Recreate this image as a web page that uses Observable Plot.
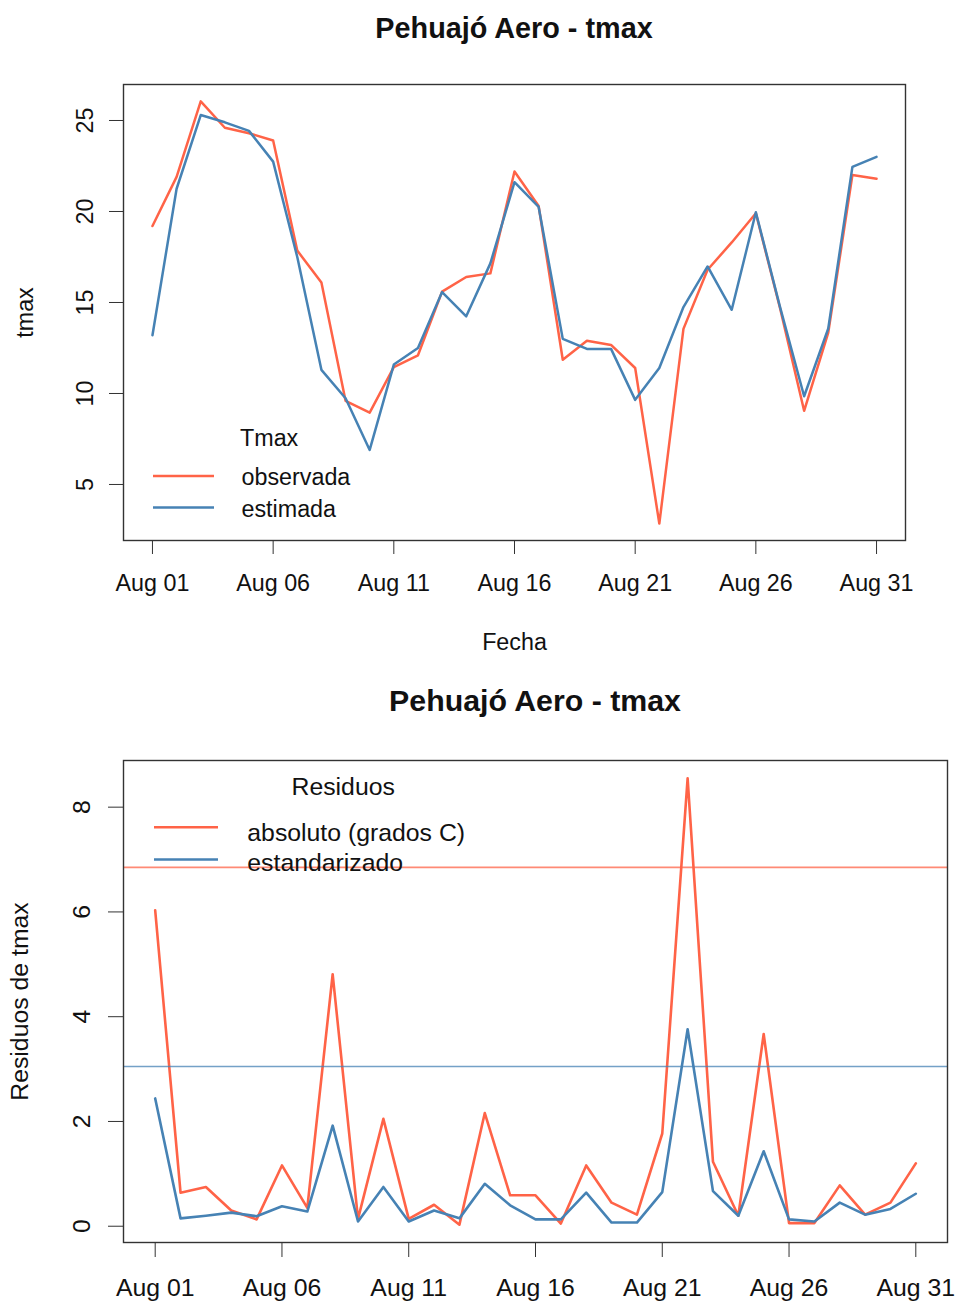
<!DOCTYPE html>
<html>
<head>
<meta charset="utf-8">
<script src="https://cdn.jsdelivr.net/npm/d3@7"></script>
<script src="https://cdn.jsdelivr.net/npm/@observablehq/plot@0.6"></script>
<style>
  body { margin: 0; background: #fff; }
  #page { position: relative; width: 955px; height: 1304px; overflow: hidden; background: #fff; }
  #c1, #c2 { position: absolute; left: 0; }
  #c1 { top: 0; }
  #c2 { top: 660px; }
  #overlay { position: absolute; left: 0; top: 0; pointer-events: none; }
</style>
</head>
<body>
<div id="page">
  <div id="c1"></div>
  <div id="c2"></div>
  <svg id="overlay" width="955" height="1304"></svg>
</div>
<script>
// ---------- data ----------
const dias = [1,2,3,4,5,6,7,8,9,10,11,12,13,14,15,16,17,18,19,20,21,22,23,24,25,26,27,28,29,30,31];
const observada = [19.2, 21.9, 26.05, 24.6, 24.3, 23.9, 17.85, 16.1, 9.6, 8.95, 11.45, 12.1, 15.6, 16.4, 16.6, 22.2,
                   20.3, 11.85, 12.9, 12.67, 11.4, 2.85, 13.55, 16.8, 18.3, 19.9, 14.7, 9.05, 13.35, 22.0, 21.8];
const estimada  = [13.2, 21.25, 25.3, 24.9, 24.43, 22.74, 17.5, 11.3, 9.74, 6.9, 11.59, 12.5, 15.57, 14.24, 17.15, 21.61,
                   20.25, 13.0, 12.45, 12.45, 9.65, 11.4, 14.75, 16.98, 14.6, 19.96, 14.76, 9.85, 13.57, 22.45, 23.0];
const residuoAbsoluto = [6.03, 0.64, 0.75, 0.3, 0.13, 1.16, 0.35, 4.81, 0.14, 2.05, 0.14, 0.41, 0.03, 2.16, 0.59, 0.59,
                         0.05, 1.16, 0.45, 0.22, 1.77, 8.55, 1.23, 0.2, 3.67, 0.06, 0.06, 0.78, 0.22, 0.45, 1.2];
const residuoEstandarizado = [2.44, 0.15, 0.2, 0.26, 0.19, 0.38, 0.28, 1.92, 0.09, 0.75, 0.09, 0.3, 0.15, 0.81, 0.4, 0.13,
                              0.13, 0.64, 0.07, 0.07, 0.65, 3.76, 0.67, 0.2, 1.43, 0.13, 0.09, 0.45, 0.22, 0.33, 0.62];
const umbralAbsoluto = [6.85];
const umbralEstandarizado = [3.05];
const xTickDias = [1, 6, 11, 16, 21, 26, 31];
const yTicks1 = [5, 10, 15, 20, 25];
const yTicks2 = [0, 2, 4, 6, 8];
const titulo = "Pehuajó Aero - tmax";

// ---------- helpers ----------
const DAY = 864e5;
const toDate = d => new Date(Date.UTC(2021, 7, d));
const fechas = dias.map(toDate);
const xTicks = xTickDias.map(toDate);
const fmt = d3.utcFormat("%b %d");
function padDomain(vals, f) { const [a, b] = d3.extent(vals); const r = b - a; return [a - f * r, b + f * r]; }
const FONT = "'Liberation Sans', Arial, Helvetica, sans-serif";
const INK = "#111";
const RED = "tomato", BLUE = "steelblue";

const serie1 = dias.map((d, i) => ({fecha: fechas[i], observada: observada[i], estimada: estimada[i]}));
const serie2 = dias.map((d, i) => ({fecha: fechas[i], abs: residuoAbsoluto[i], est: residuoEstandarizado[i]}));

// ---------- chart 1 ----------
const fs1 = 23.3;
const chart1 = Plot.plot({
  width: 955, height: 660,
  marginLeft: 123, marginRight: 50, marginTop: 84, marginBottom: 120,
  style: {fontFamily: FONT, fontSize: fs1 + "px", color: INK, background: "white", overflow: "visible"},
  x: {type: "utc", domain: [+fechas[0] - 1.2 * DAY, +fechas[fechas.length - 1] + 1.2 * DAY]},
  y: {domain: padDomain([...observada, ...estimada], 0.04)},
  marks: [
    Plot.line(serie1, {x: "fecha", y: "observada", stroke: RED, strokeWidth: 2.5}),
    Plot.line(serie1, {x: "fecha", y: "estimada", stroke: BLUE, strokeWidth: 2.5}),
    Plot.frame({stroke: "#333", strokeWidth: 1.4}),
    Plot.axisX({ticks: xTicks, tickSize: 14, tickPadding: 20, tickFormat: fmt, label: null, stroke: "#333"}),
    Plot.axisY({ticks: yTicks1, tickSize: 14, tickPadding: 17, tickRotate: -90, label: null, stroke: "#333"}),
    Plot.text(["Fecha"], {frameAnchor: "bottom", dy: 109, text: d => d, fill: INK}),
    Plot.text(["tmax"], {frameAnchor: "left", dx: -98, rotate: -90, textAnchor: "middle", text: d => d, fill: INK})
  ]
});
document.getElementById("c1").appendChild(chart1);

// ---------- chart 2 ----------
const fs2 = 24.8;
const chart2 = Plot.plot({
  width: 955, height: 644,
  marginLeft: 123, marginRight: 8, marginTop: 100, marginBottom: 62,
  style: {fontFamily: FONT, fontSize: fs2 + "px", color: INK, background: "white", overflow: "visible"},
  x: {type: "utc", domain: [+fechas[0] - 1.25 * DAY, +fechas[fechas.length - 1] + 1.25 * DAY]},
  y: {domain: padDomain([...residuoAbsoluto, ...residuoEstandarizado], 0.04)},
  marks: [
    Plot.line(serie2, {x: "fecha", y: "abs", stroke: RED, strokeWidth: 2.6}),
    Plot.line(serie2, {x: "fecha", y: "est", stroke: BLUE, strokeWidth: 2.6}),
    Plot.ruleY(umbralAbsoluto, {stroke: RED, strokeOpacity: 0.75, strokeWidth: 1.6}),
    Plot.ruleY(umbralEstandarizado, {stroke: BLUE, strokeOpacity: 0.75, strokeWidth: 1.6}),
    Plot.frame({stroke: "#333", strokeWidth: 1.4}),
    Plot.axisX({ticks: xTicks, tickSize: 15, tickPadding: 21, tickFormat: fmt, label: null, stroke: "#333"}),
    Plot.axisY({ticks: yTicks2, tickSize: 15, tickPadding: 19, tickRotate: -90, label: null, stroke: "#333"}),
    Plot.text(["Residuos de tmax"], {frameAnchor: "left", dx: -103, rotate: -90, textAnchor: "middle", text: d => d, fill: INK})
  ]
});
document.getElementById("c2").appendChild(chart2);

// ---------- titles and legends (overlay) ----------
const ov = d3.select("#overlay");
function txt(x, y, s, size, opts = {}) {
  ov.append("text").attr("x", x).attr("y", y).text(s)
    .attr("font-family", FONT).attr("font-size", size).attr("fill", INK)
    .attr("font-weight", opts.bold ? "bold" : "normal")
    .attr("text-anchor", opts.anchor || "start");
}
function seg(x1, x2, y, color, w) {
  ov.append("line").attr("x1", x1).attr("x2", x2).attr("y1", y).attr("y2", y)
    .attr("stroke", color).attr("stroke-width", w);
}
txt(514, 37.5, titulo, 28.8, {bold: true, anchor: "middle"});
txt(535, 711, titulo, 30.3, {bold: true, anchor: "middle"});

// legend 1
txt(240, 446, "Tmax", fs1);
seg(153, 214, 476, RED, 2.5);
seg(153, 214, 507.5, BLUE, 2.5);
txt(241.5, 485, "observada", fs1);
txt(241.5, 516.5, "estimada", fs1);

// legend 2
txt(291.5, 795, "Residuos", fs2);
seg(154, 218, 827.3, RED, 2.6);
seg(154, 218, 859.5, BLUE, 2.6);
txt(247.3, 840.5, "absoluto (grados C)", fs2);
txt(247.3, 871, "estandarizado", fs2);
</script>
</body>
</html>
